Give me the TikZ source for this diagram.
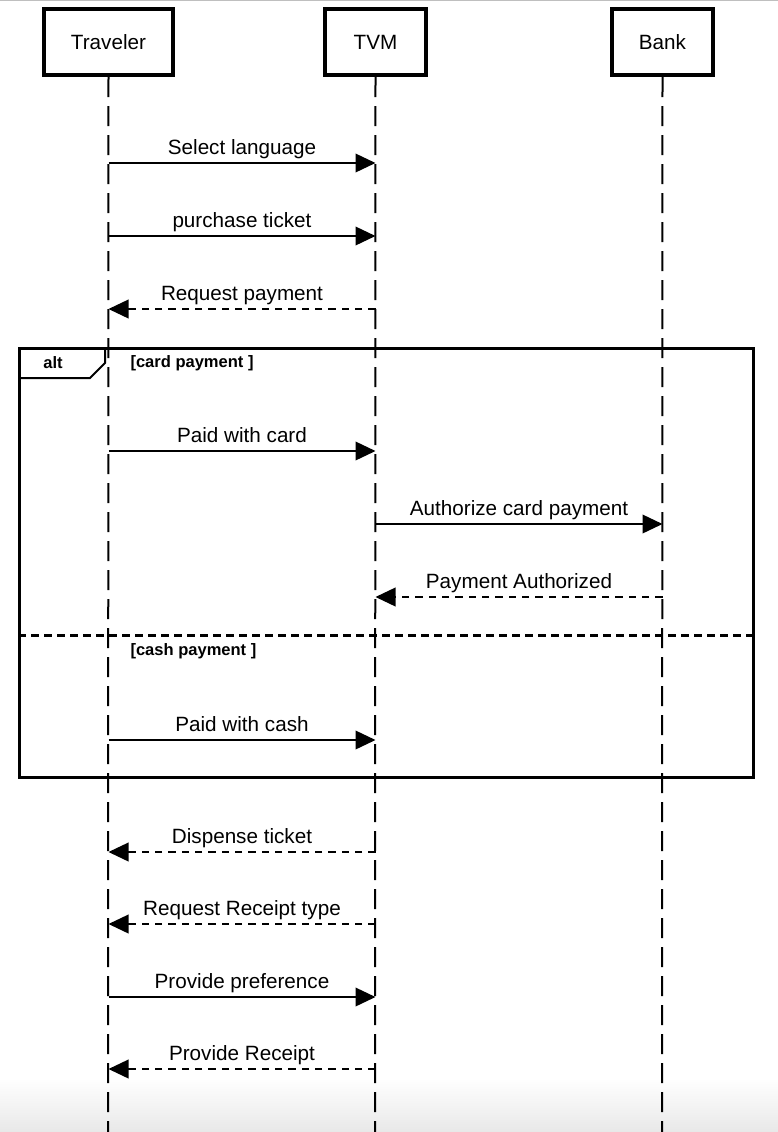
\documentclass[tikz,border=0pt]{standalone}
\usepackage{fontspec}
\setmainfont{Liberation Sans}
\usetikzlibrary{arrows.meta}

\tikzset{every picture/.style={line width=0.75pt}}
\tikzset{
  actorbox/.style={draw, line width=3pt, minimum height=49.5pt, inner sep=0pt, font=\fontsize{15.5}{18}\selectfont},
  lifeline/.style={line width=1.5pt, dash pattern={on 15pt off 6.75pt}},
  syncmsg/.style={line width=1.2pt, -{Triangle[length=15pt,width=14pt]}},
  replymsg/.style={line width=1.2pt, dash pattern={on 5.5pt off 4.5pt}, -{Triangle[length=15pt,width=14pt]}},
  msglabel/.style={midway, above, inner xsep=0pt, inner ysep=2pt, text depth=4pt, font=\fontsize{15.5}{18}\selectfont},
  altframe/.style={draw, line width=2.25pt, inner sep=0pt},
  tabline/.style={line width=1.5pt},
  guard/.style={anchor=west, inner sep=0pt, font=\fontsize{12.4}{14}\selectfont\bfseries},
  separator/.style={line width=2.25pt, dash pattern={on 6pt off 3.75pt}}
}

\begin{document}
\begin{tikzpicture}[x=0.75pt,y=0.75pt,yscale=-1,xscale=1]
\useasboundingbox (0,0) rectangle (778,1132);

% Background
\shade [top color=white, bottom color=black!9] (0,1078) rectangle (778,1132);
\draw [color=black!25] (0,0.5) -- (778,0.5);

% Actor boxes
\node [actorbox, minimum width=96.75pt] (traveler) at (108.5,42) {Traveler};
\node [actorbox, minimum width=75.75pt] (tvm) at (375.5,42) {TVM};
\node [actorbox, minimum width=75.75pt] (bank) at (662.5,42) {Bank};

% Alt frame
\node [altframe, minimum width=550.5pt, minimum height=321.75pt] (alt) at (386.5,563) {};
\draw [tabline] (alt.north west) ++(0,31) -- ++(72,0) -- ++(15,-15) -- ++(0,-16);
\node [guard, anchor=center] (altname) at (53,363) {alt};
\node [guard] (cardguard) at (130,363) {[card payment ]};
\draw [separator] (alt.west |- 0,635) -- (alt.east |- 0,635);
\node [guard] (cashguard) at (130,651) {[cash payment ]};

% Lifelines
\coordinate (travelerEnd) at (108,1132);
\coordinate (tvmEnd) at (375,1132);
\coordinate (bankEnd) at (662,1132);
\draw [lifeline] (traveler.south) -- (travelerEnd);
\draw [lifeline] (tvm.south) -- (tvmEnd);
\draw [lifeline] (bank.south) -- (bankEnd);

% Messages
\draw [syncmsg] (traveler.south |- 0,163) -- node [msglabel] {Select language} (tvm.south |- 0,163);
\draw [syncmsg] (traveler.south |- 0,236) -- node [msglabel] {purchase ticket} (tvm.south |- 0,236);
\draw [replymsg] (tvm.south |- 0,309) -- node [msglabel] {Request payment} (traveler.south |- 0,309);
% card payment
\draw [syncmsg] (traveler.south |- 0,451) -- node [msglabel] {Paid with card} (tvm.south |- 0,451);
\draw [syncmsg] (tvm.south |- 0,524) -- node [msglabel] {Authorize card payment} (bank.south |- 0,524);
\draw [replymsg] (bank.south |- 0,597) -- node [msglabel] {Payment Authorized} (tvm.south |- 0,597);
% cash payment
\draw [syncmsg] (traveler.south |- 0,740) -- node [msglabel] {Paid with cash} (tvm.south |- 0,740);
% after payment
\draw [replymsg] (tvm.south |- 0,852) -- node [msglabel] {Dispense ticket} (traveler.south |- 0,852);
\draw [replymsg] (tvm.south |- 0,924) -- node [msglabel] {Request Receipt type} (traveler.south |- 0,924);
\draw [syncmsg] (traveler.south |- 0,997) -- node [msglabel] {Provide preference} (tvm.south |- 0,997);
\draw [replymsg] (tvm.south |- 0,1069) -- node [msglabel] {Provide Receipt} (traveler.south |- 0,1069);

\end{tikzpicture}
\end{document}
